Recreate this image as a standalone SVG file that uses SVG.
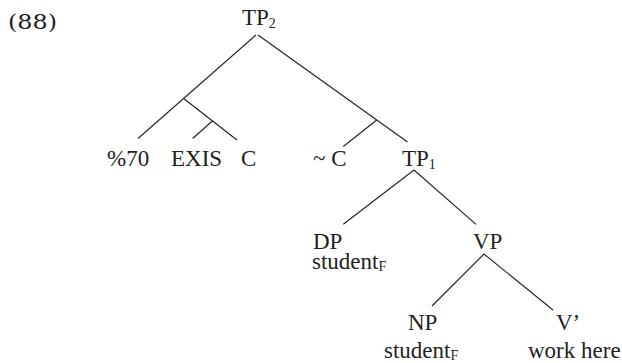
<svg xmlns="http://www.w3.org/2000/svg" width="622" height="363" viewBox="0 0 622 363">
<style>
text{font-family:"Liberation Serif","Times New Roman",serif;font-size:23px;fill:#231f20}
.sub{font-size:14px}
.num{font-family:"DejaVu Serif","Liberation Serif",serif;font-size:21px}
#edges line{stroke:#231f20;stroke-width:1.1;fill:none}
</style>
<rect width="622" height="363" fill="#fff"/>
<text class="num" x="8" y="29" textLength="49" lengthAdjust="spacingAndGlyphs">(88)</text>
<g id="edges">
<line x1="256" y1="35" x2="138" y2="138.5"/>
<line x1="183.3" y1="98.3" x2="237" y2="140"/>
<line x1="212.3" y1="121" x2="192.7" y2="138.5"/>
<line x1="258" y1="35" x2="407.5" y2="142"/>
<line x1="376.7" y1="120" x2="343.3" y2="146.5"/>
<line x1="414" y1="170" x2="343.3" y2="224.3"/>
<line x1="414" y1="170" x2="476" y2="224.3"/>
<line x1="484" y1="254" x2="432" y2="306"/>
<line x1="484" y1="254" x2="553" y2="310"/>
</g>
<g id="tp2"><text x="242" y="25">TP<tspan class="sub" dy="3">2</tspan></text></g>
<g id="pct70"><text x="107" y="166">%70</text></g>
<g id="exis"><text x="171" y="166">EXIS</text></g>
<g id="c"><text x="241" y="166">C</text></g>
<g id="notc"><text x="313" y="166">~ C</text></g>
<g id="tp1"><text x="402" y="166">TP<tspan class="sub" dy="3">1</tspan></text></g>
<g id="dp"><text x="313" y="249">DP</text><text x="312" y="269">student<tspan class="sub" dy="2">F</tspan></text></g>
<g id="vp"><text x="473" y="249">VP</text></g>
<g id="np"><text x="408" y="330">NP</text><text x="384" y="358">student<tspan class="sub" dy="2">F</tspan></text></g>
<g id="vbar"><text x="556" y="330">V’</text><text x="528" y="358">work here</text></g>
</svg>
